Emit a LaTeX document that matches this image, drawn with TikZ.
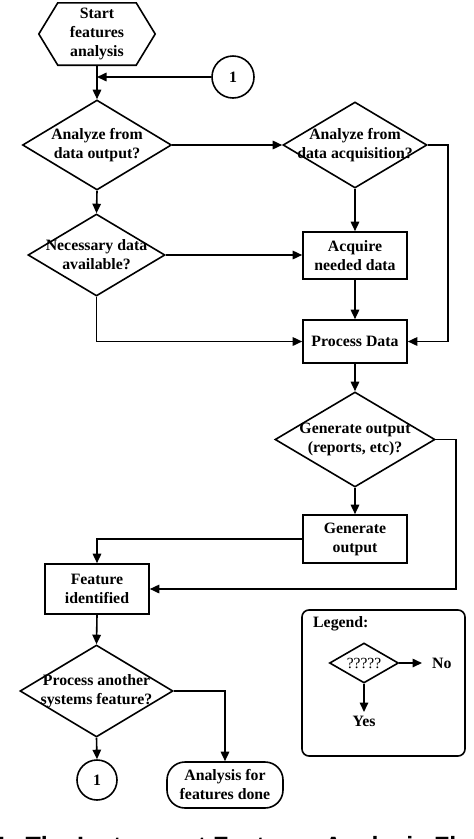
\documentclass[tikz,border=0pt]{standalone}
\usepackage{fontspec}
\setmainfont{Liberation Serif}
\newfontfamily\capfont{Liberation Sans}
\usetikzlibrary{shapes.geometric,arrows.meta}
\begin{document}
\begin{tikzpicture}[x=1pt,y=-1pt,
  every node/.style={font=\fontsize{15.8}{19}\selectfont\bfseries, align=center, inner sep=0pt},
  line/.style={line width=1.6pt},
  arr/.style={line width=1.6pt,-{Triangle[length=9.5pt,width=8.5pt]}},
  box/.style={draw, line width=1.6pt, minimum width=104pt},
  dia/.style={draw, diamond, line width=1.6pt},
  conn/.style={draw, circle, line width=1.6pt},
]
\clip (0,0) rectangle (474,839);
\fill[white] (0,0) rectangle (474,839);

% start hexagon
\node[minimum width=116pt, minimum height=62pt] (start) at (97,34) {Start\\features\\analysis};
\draw[line] ([xshift=19pt]start.north west) -- ([xshift=-19pt]start.north east) -- (start.east)
  -- ([xshift=-19pt]start.south east) -- ([xshift=19pt]start.south west) -- (start.west) -- cycle;

\node[conn, minimum size=42pt] (c1) at (233,77) {1};
\coordinate (j1) at (97,77);

\node[dia, minimum width=149pt, minimum height=90pt] (d1) at (97,145) {};
\node at (d1) {Analyze from\\data output?};
\node[dia, minimum width=144pt, minimum height=86pt] (d2) at (355,145) {};
\node at (d2) {Analyze from\\data acquisition?};
\node[dia, minimum width=137pt, minimum height=82pt] (d3) at (96.5,255) {};
\node at (d3) {Necessary data\\available?};
\node[box, minimum height=47pt] (acq) at (355,255.5) {Acquire\\needed data};
\node[box, minimum height=43pt] (proc) at (355,341.5) {Process Data};
\node[dia, minimum width=160pt, minimum height=95pt] (d4) at (355,439.5) {};
\node at (d4) {Generate output\\(reports, etc)?};
\node[box, minimum height=48pt] (gen) at (355,539) {Generate\\output};
\node[box, minimum height=50pt] (feat) at (97,589) {Feature\\identified};
\node[dia, minimum width=153pt, minimum height=92pt] (d5) at (96.5,691) {};
\node at (d5) {Process another\\systems feature?};
\node[conn, minimum size=40pt] (c2) at (97,780) {1};
\node[draw, line width=1.6pt, rounded corners=18pt, minimum width=116pt, minimum height=46pt] (done) at (225,785) {Analysis for\\features done};

% connectors
\draw[arr] (start.south) -- (d1.north);
\draw[arr] (c1.west) -- (j1);
\draw[arr] (d1.east) -- (d2.west);
\draw[arr] (d1.south) -- (d3.north);
\draw[arr] (d2.south) -- (acq.north);
\draw[arr] (d2.east) -- ++(20,0) |- (proc.east);
\draw[arr] (d3.east) -- (acq.west |- d3.east);
\draw[arr] (acq.south) -- (proc.north);
\draw[arr] (d3.south) |- (proc.west);
\draw[arr] (proc.south) -- (d4.north);
\draw[arr] (d4.east) -- ++(20,0) |- (feat.east);
\draw[arr] (d4.south) -- (gen.north);
\draw[arr] (gen.west) -| (feat.north);
\draw[arr] (feat.south) -- (d5.north);
\draw[arr] (d5.south) -- (c2.north);
\draw[arr] (d5.east) -| (done.north);

% legend
\node[draw, line width=1.6pt, rounded corners=7pt, minimum width=163pt, minimum height=146pt] (leg) at (383.5,683) {};
\node[anchor=west] (legt) at (313,624) {Legend:};
\node[dia, minimum width=69pt, minimum height=40pt] (ld) at (364,663) {};
\node[font=\fontsize{15.5}{19}\selectfont] at (ld) {?????};
\node[anchor=west] (no) at (432,663) {No};
\node[anchor=north] (yes) at (364,716) {Yes};
\draw[arr] (ld.east) -- ([xshift=-10pt]no.west);
\draw[arr] (ld.south) -- ([yshift=4pt]yes.north);

% caption (cut off by the lower edge)
\node[font=\capfont\fontsize{25}{30}\selectfont\bfseries, anchor=base west] (cap) at (-6,854) {1: The Instrument Features Analysis Flowchart};
\end{tikzpicture}
\end{document}
